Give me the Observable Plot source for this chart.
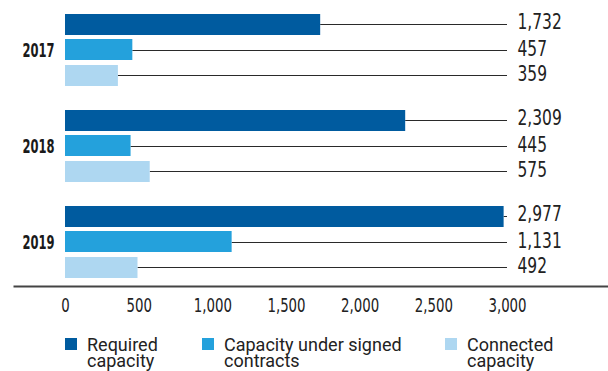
<!DOCTYPE html>
<html>
<head>
<meta charset="utf-8">
<script src="https://cdn.jsdelivr.net/npm/d3@7"></script>
<script src="https://cdn.jsdelivr.net/npm/@observablehq/plot@0.6"></script>
<style>
  html, body { margin: 0; padding: 0; background: #fff; }
  #chart svg { display: block; }
  .legend { position: relative; width: 608px; height: 34px; margin-top: 7px; font-family: Roboto, "DejaVu Sans", sans-serif; font-size: 18px; line-height: 16px; color: #222; }
  .legend .item { position: absolute; top: 0; }
  .legend .sw { position: absolute; top: 1px; left: 0; width: 12px; height: 12px; }
  .legend .lab { position: absolute; top: 0; left: 22px; white-space: nowrap; }
</style>
</head>
<body>
<div id="chart"></div>
<div class="legend" id="legend"></div>
<script>
// ---- data ----
const years = ["2017", "2018", "2019"];
const seriesNames = ["Required capacity", "Capacity under signed contracts", "Connected capacity"];
const legendLines = [["Required", "capacity"], ["Capacity under signed", "contracts"], ["Connected", "capacity"]];
const required = [1732, 2309, 2977];
const signed = [457, 445, 1131];
const connected = [359, 575, 492];
const xTicks = [0, 500, 1000, 1500, 2000, 2500, 3000];
const colors = ["#005b9f", "#24a1dc", "#aed7f1"];

const seriesValues = [required, signed, connected];
const rows = [];
seriesValues.forEach((vals, k) => vals.forEach((v, i) => rows.push({year: years[i], series: seriesNames[k], k, value: v})));
const xMax = xTicks[xTicks.length - 1];
const fmt = d3.format(",");

// styling offsets within each year band (pixels)
const barInsetTop = [0, 25, 51];
const barInsetBottom = [51, 26, 0];
const ruleDy = [-26, 0, 25];
const labelDy = [-28, -1, 24];

const narrow = "'DejaVu Sans Condensed', 'DejaVu Sans', sans-serif";
const marks = [];
seriesNames.forEach((name, k) => {
  const data = rows.filter(d => d.k === k);
  marks.push(Plot.ruleY(data, {x1: "value", x2: () => xMax, y: "year", dy: ruleDy[k], stroke: "#2a2a2a", strokeWidth: 1}));
  marks.push(Plot.barX(data, {x: "value", y: "year", fill: colors[k], insetTop: barInsetTop[k], insetBottom: barInsetBottom[k]}));
  marks.push(Plot.text(data, {y: "year", frameAnchor: "right", text: d => fmt(d.value), dx: 10, dy: labelDy[k], textAnchor: "start", fontSize: 21, fontFamily: narrow, fill: "#222"}));
});

const chart = Plot.plot({
  width: 608,
  height: 330,
  marginLeft: 65,
  marginRight: 101,
  marginTop: 6,
  marginBottom: 44,
  x: {domain: [0, xMax]},
  y: {domain: years, paddingInner: 0.25, paddingOuter: 0.0833},
  style: {fontFamily: narrow, color: "#222", background: "#fff"},
  marks: [
    ...marks,
    Plot.frame({anchor: "bottom", stroke: "#444", strokeWidth: 2, insetLeft: -51, insetRight: -101}),
    Plot.axisX({ticks: xTicks, tickSize: 0, tickPadding: 12, tickFormat: fmt, fontSize: 19, fontFamily: narrow, label: null, fill: "#222"}),
    Plot.axisY({tickSize: 0, tickPadding: 11, fontSize: 20, fontWeight: "bold", fontFamily: narrow, label: null, fill: "#1a1a1a"})
  ]
});
document.getElementById("chart").appendChild(chart);

// condense the text horizontally to mimic the reference's condensed typeface
function condense(selector, sx) {
  d3.select(chart).selectAll(selector).each(function () {
    const t = this.getAttribute("transform");
    if (t) {
      this.setAttribute("transform", t + ` scale(${sx},1)`);
    } else {
      const x = +this.getAttribute("x") || 0, y = +this.getAttribute("y") || 0;
      this.setAttribute("transform", `translate(${x},${y}) scale(${sx},1) translate(${-x},${-y})`);
    }
  });
}
condense('g[aria-label="x-axis tick label"] text', 0.78);
condense('g[aria-label="y-axis tick label"] text', 0.64);
condense('g[aria-label="text"] text', 0.82);

const legendXs = [65, 202, 445];
const legend = d3.select("#legend");
seriesNames.forEach((name, k) => {
  const item = legend.append("div").attr("class", "item").style("left", legendXs[k] + "px");
  item.append("div").attr("class", "sw").style("background", colors[k]);
  item.append("div").attr("class", "lab").html(legendLines[k].join("<br>"));
});
</script>
</body>
</html>
